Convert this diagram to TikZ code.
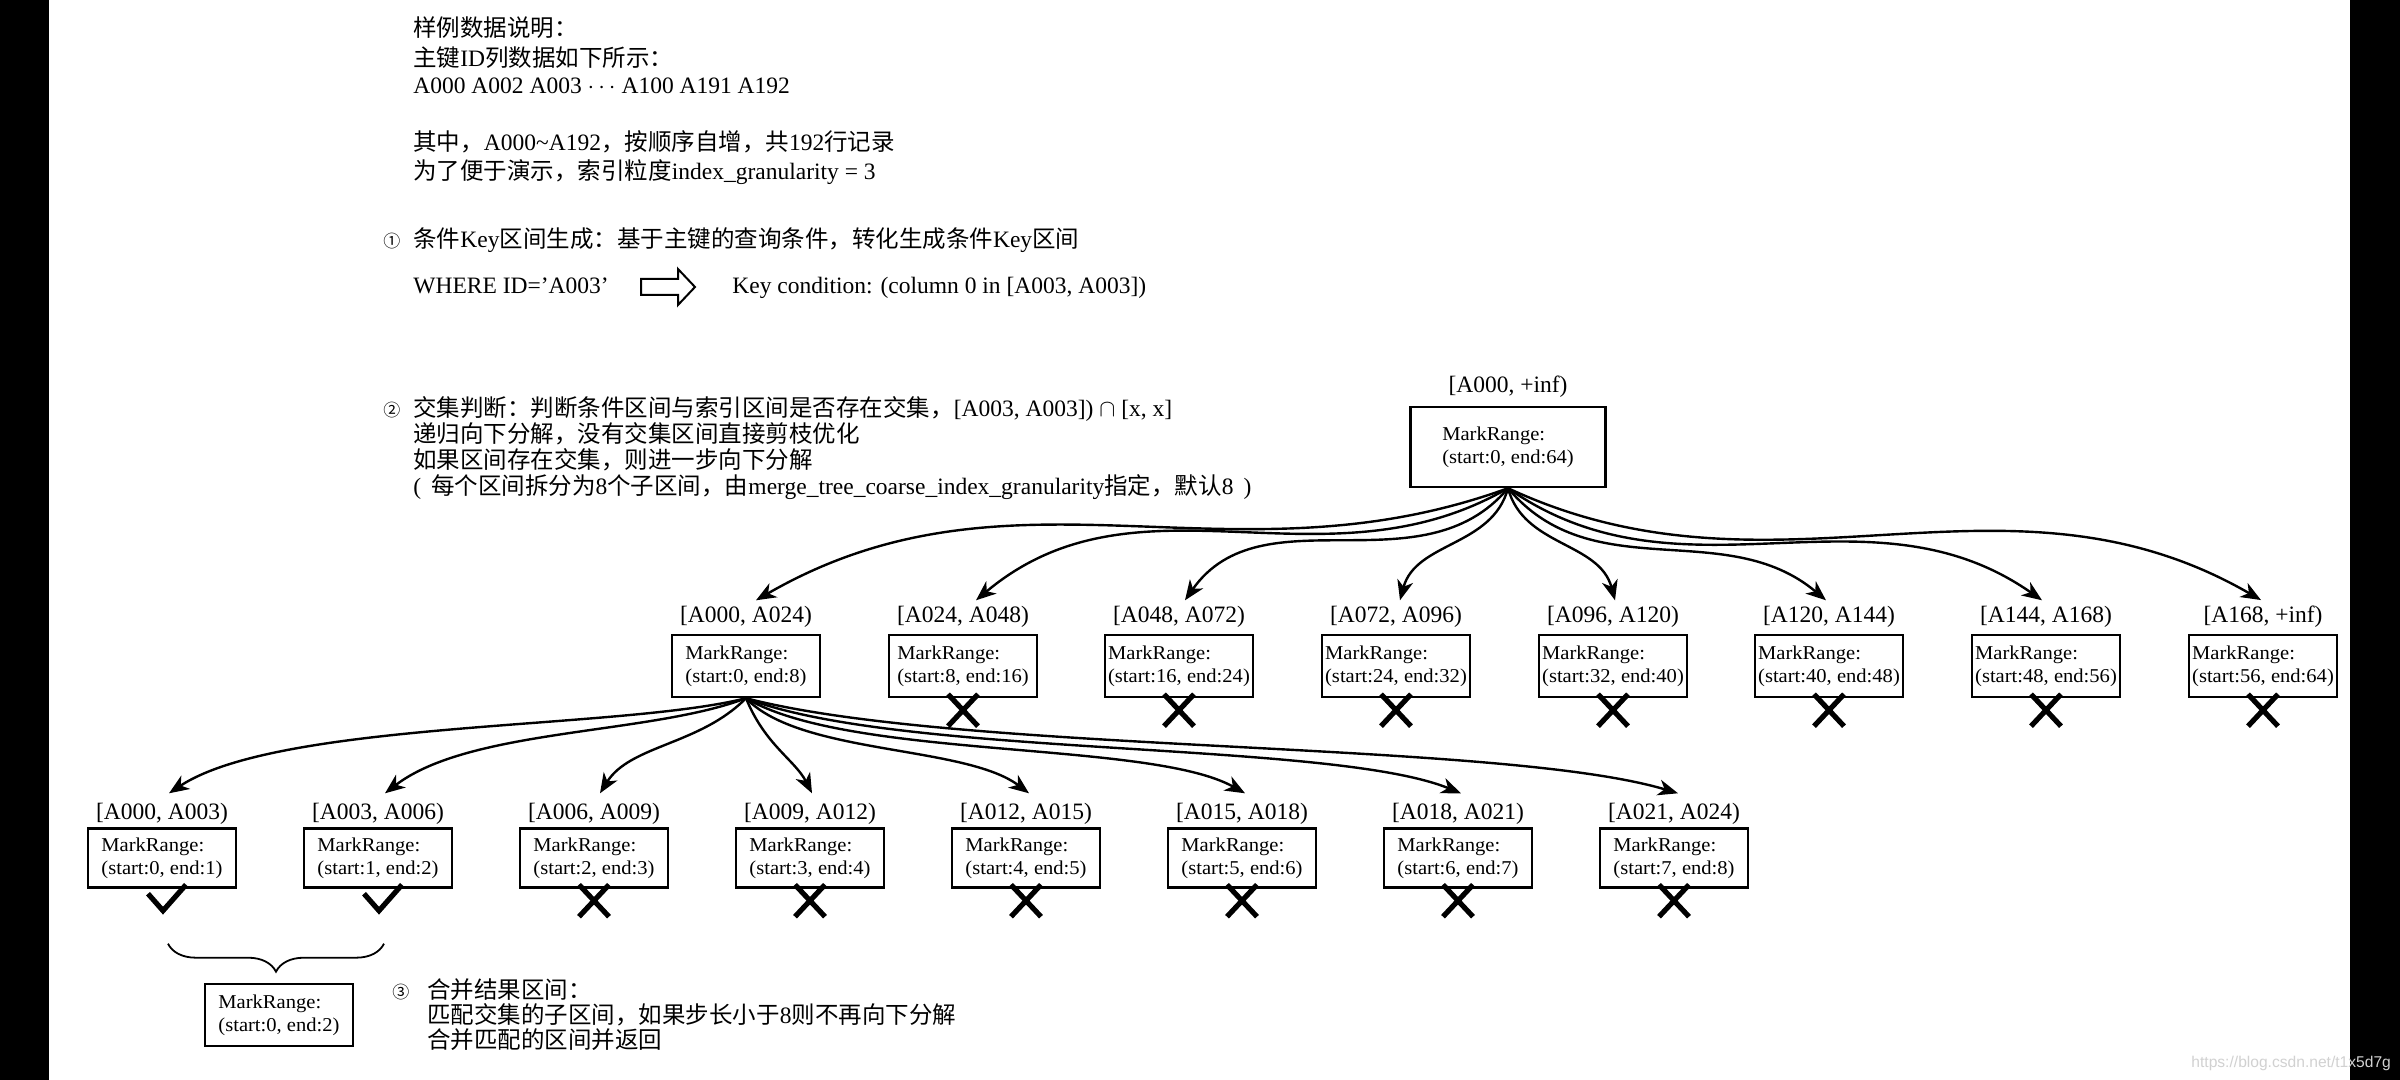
\documentclass[tikz,border=0pt]{standalone}
\usepackage{fontspec}
\setmainfont{Liberation Serif}
\newfontfamily\cjk{Noto Sans CJK SC}
\newfontfamily\bxf[FakeStretch=1.05]{Liberation Serif}
\newfontfamily\wmf{Liberation Sans}
\usetikzlibrary{arrows.meta,decorations.pathreplacing,calc}
\newcommand\zh[1]{{\cjk #1}}
\begin{document}
\begin{tikzpicture}[x=0.5pt,y=0.5pt,
  txt/.style={anchor=base west, inner sep=0pt, font=\fontsize{11.75}{14}\selectfont},
  circnum/.style={anchor=base west, inner sep=0pt, font=\cjk\fontsize{8.5}{10}\selectfont},
  lbl/.style={anchor=base, inner sep=0pt, font=\fontsize{11.75}{14}\selectfont},
  mr/.style={draw, line width=1.2pt, inner sep=0pt, align=left, minimum width=74pt, minimum height=31pt, font=\bxf\fontsize{9.8}{11.5}\selectfont},
  mrs/.style={mr, minimum height=29.5pt},
  conn/.style={line width=1.2pt, -{Stealth[length=10pt,width=8pt,inset=3pt]}},
  mk/.style={line width=2.6pt},
  xm/.pic={\draw[mk] (-15,4) -- (15,-28) (15,4) -- (-15,-28);},
  ck/.pic={\draw[mk] (-14,-5) -- (1,-22) -- (24,4);},
]
\useasboundingbox (0,0) rectangle (2400,-1080);
\fill[white] (0,0) rectangle (2400,-1080);
\fill[black] (0,0) rectangle (49,-1080);
\fill[black] (2350,0) rectangle (2400,-1080);

% ---- top text ----
\node[txt] (t1) at (413,-37) {\zh{样例数据说明：}};
\node[txt] (t2) at (413,-67) {\zh{主键}ID\zh{列数据如下所示：}};
\node[txt] (t3) at (413,-94) {A000 A002 A003 $\cdots$ A100 A191 A192};
\node[txt] (t4) at (413,-151) {\zh{其中，}A000\textasciitilde A192\zh{，按顺序自增，共}192\zh{行记录}};
\node[txt] (t5) at (413,-180) {\zh{为了便于演示，索引粒度}index\_granularity = 3};

\node[circnum] (c1) at (383,-248) {①};
\node[txt] (s1) at (413,-248) {\zh{条件}Key\zh{区间生成：基于主键的查询条件，转化生成条件}Key\zh{区间}};
\node[txt] (w1) at (413,-294) {WHERE ID=’A003’};
\draw[line width=1pt] (641,-279) -- (678,-279) -- (678,-269) -- (695,-287) -- (678,-305) -- (678,-295) -- (641,-295) -- cycle;
\node[txt] (k1) at (732,-294) {Key condition: (column 0 in [A003, A003])};

\node[circnum] (c2) at (383,-417) {②};
\node[txt] (s2a) at (413,-417) {\zh{交集判断：判断条件区间与索引区间是否存在交集，}[A003, A003]) $\cap$ [x, x]};
\node[txt] (s2b) at (413,-443) {\zh{递归向下分解，没有交集区间直接剪枝优化}};
\node[txt] (s2c) at (413,-469) {\zh{如果区间存在交集，则进一步向下分解}};
\node[txt] (s2d) at (413,-495) {(\hspace{5pt}\zh{每个区间拆分为}8\zh{个子区间，由}merge\_tree\_coarse\_index\_granularity\zh{指定，默认}8\hspace{5pt})};

% ---- root ----
\node[lbl] (lr) at (1508,-393) {[A000, +inf)};
\node[mr, minimum width=97.5pt, minimum height=40pt] (r) at (1508,-447) {MarkRange:\\(start:0, end:64)};

% ---- level 1 ----
\node[lbl] (la1) at (746,-623) {[A000, A024)};
\node[lbl] (la2) at (963,-623) {[A024, A048)};
\node[lbl] (la3) at (1179,-623) {[A048, A072)};
\node[lbl] (la4) at (1396,-623) {[A072, A096)};
\node[lbl] (la5) at (1613,-623) {[A096, A120)};
\node[lbl] (la6) at (1829,-623) {[A120, A144)};
\node[lbl] (la7) at (2046,-623) {[A144, A168)};
\node[lbl] (la8) at (2263,-623) {[A168, +inf)};
\node[mr] (a1) at (746,-666) {MarkRange:\\(start:0, end:8)};
\node[mr] (a2) at (963,-666) {MarkRange:\\(start:8, end:16)};
\node[mr] (a3) at (1179,-666) {MarkRange:\\(start:16, end:24)};
\node[mr] (a4) at (1396,-666) {MarkRange:\\(start:24, end:32)};
\node[mr] (a5) at (1613,-666) {MarkRange:\\(start:32, end:40)};
\node[mr] (a6) at (1829,-666) {MarkRange:\\(start:40, end:48)};
\node[mr] (a7) at (2046,-666) {MarkRange:\\(start:48, end:56)};
\node[mr] (a8) at (2263,-666) {MarkRange:\\(start:56, end:64)};
\foreach \i in {2,...,8} {\pic at (a\i.south) {xm};}

\draw[conn] (r.south) to[out=200,in=30] ($(la1.north)+(10,6)$);
\draw[conn] (r.south) to[out=210,in=40] ($(la2.north)+(13,6)$);
\draw[conn] (r.south) to[out=230,in=55] ($(la3.north)+(6,6)$);
\draw[conn] (r.south) to[out=255,in=75] ($(la4.north)+(4,6)$);
\draw[conn] (r.south) to[out=285,in=105] ($(la5.north)+(2,6)$);
\draw[conn] (r.south) to[out=310,in=140] ($(la6.north)+(-3,6)$);
\draw[conn] (r.south) to[out=325,in=145] ($(la7.north)+(-4,6)$);
\draw[conn] (r.south) to[out=335,in=150] ($(la8.north)+(-2,6)$);

% ---- level 2 ----
\node[lbl] (lb1) at (162,-819) {[A000, A003)};
\node[lbl] (lb2) at (378,-819) {[A003, A006)};
\node[lbl] (lb3) at (594,-819) {[A006, A009)};
\node[lbl] (lb4) at (810,-819) {[A009, A012)};
\node[lbl] (lb5) at (1026,-819) {[A012, A015)};
\node[lbl] (lb6) at (1242,-819) {[A015, A018)};
\node[lbl] (lb7) at (1458,-819) {[A018, A021)};
\node[lbl] (lb8) at (1674,-819) {[A021, A024)};
\node[mrs] (b1) at (162,-858) {MarkRange:\\(start:0, end:1)};
\node[mrs] (b2) at (378,-858) {MarkRange:\\(start:1, end:2)};
\node[mrs] (b3) at (594,-858) {MarkRange:\\(start:2, end:3)};
\node[mrs] (b4) at (810,-858) {MarkRange:\\(start:3, end:4)};
\node[mrs] (b5) at (1026,-858) {MarkRange:\\(start:4, end:5)};
\node[mrs] (b6) at (1242,-858) {MarkRange:\\(start:5, end:6)};
\node[mrs] (b7) at (1458,-858) {MarkRange:\\(start:6, end:7)};
\node[mrs] (b8) at (1674,-858) {MarkRange:\\(start:7, end:8)};
\pic at (b1.south) {ck};
\pic at (b2.south) {ck};
\foreach \i in {3,...,8} {\pic at (b\i.south) {xm};}

\draw[conn] (a1.south) .. controls (620,-730) and (280,-720) .. ($(lb1.north)+(7,9)$);
\draw[conn] (a1.south) .. controls (650,-735) and (470,-728) .. ($(lb2.north)+(7,9)$);
\draw[conn] (a1.south) .. controls (700,-745) and (630,-745) .. ($(lb3.north)+(6,9)$);
\draw[conn] (a1.south) .. controls (765,-745) and (795,-760) .. ($(lb4.north)+(2,9)$);
\draw[conn] (a1.south) .. controls (800,-755) and (965,-745) .. ($(lb5.north)+(3,9)$);
\draw[conn] (a1.south) .. controls (850,-760) and (1150,-740) .. ($(lb6.north)+(3,9)$);
\draw[conn] (a1.south) .. controls (900,-758) and (1330,-740) .. ($(lb7.north)+(3,9)$);
\draw[conn] (a1.south) .. controls (960,-754) and (1500,-740) .. ($(lb8.north)+(4,9)$);

% ---- merge ----
\draw[line width=0.9pt, decorate, decoration={brace, mirror, amplitude=14pt}] ($(b1.south)+(6,-55)$) -- ($(b2.south)+(6,-55)$);
\node[mr] (m) at (279,-1015) {MarkRange:\\(start:0, end:2)};
\node[circnum] (c3) at (392,-998) {③};
\node[txt] (s3a) at (427,-998) {\zh{合并结果区间：}};
\node[txt] (s3b) at (427,-1023) {\zh{匹配交集的子区间，如果步长小于}8\zh{则不再向下分解}};
\node[txt] (s3c) at (427,-1048) {\zh{合并匹配的区间并返回}};

\node[anchor=base west, inner sep=0pt, text=black!18, font=\wmf\fontsize{7.8}{9}\selectfont] (wm) at (2191,-1067) {https://blog.csdn.net/t1x5d7g};
\end{tikzpicture}
\end{document}
